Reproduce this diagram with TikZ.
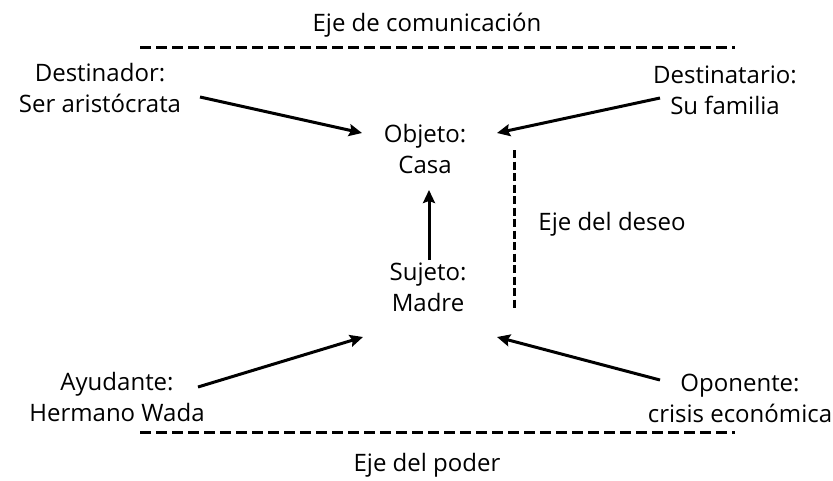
\documentclass[tikz,border=0pt]{standalone}
\usepackage{fontspec}
\setmainfont{Open Sans}
\usetikzlibrary{arrows.meta}

\begin{document}
\begin{tikzpicture}[x=1pt,y=-1pt,
	rol/.style={align=center, inner sep=0pt, font=\fontsize{24}{31}\selectfont},
	flecha/.style={line width=3pt, -{Stealth[length=13pt,width=12pt,inset=2pt]}},
	eje/.style={line width=3pt, dash pattern=on 11pt off 5pt}]
	\useasboundingbox (0,0) rectangle (833,480);
		\node[rol] (comunicacion) at (427,25) {Eje de comunicación};
		\node[rol] (poder) at (427,465) {Eje del poder};
		\node[rol] (deseo) at (612,224) {Eje del deseo};
		\node[rol] (destinador) at (100,88) {Destinador:\\Ser aristócrata};
		\node[rol] (destinatario) at (725,90) {Destinatario:\\Su familia};
		\node[rol] (objeto) at (425,149) {Objeto:\\Casa};
		\node[rol] (sujeto) at (428,287) {Sujeto:\\Madre};
		\node[rol] (ayudante) at (117,397) {Ayudante:\\Hermano Wada};
		\node[rol] (oponente) at (740,398) {Oponente:\\crisis económica};
		\draw[eje] (140,47) -- (735,47);
		\draw[eje] (140,432) -- (735,432);
		\draw[eje, dash pattern=on 8pt off 3.5pt] (514,150) -- (514,310);
		\draw[flecha] ([xshift=100pt,yshift=-9pt]destinador.center) -- ([xshift=-63pt,yshift=16pt]objeto.center);
		\draw[flecha] ([xshift=-65pt,yshift=-8pt]destinatario.center) -- ([xshift=72pt,yshift=16pt]objeto.center);
		\draw[flecha] ([xshift=1pt,yshift=27pt]sujeto.center) -- ([xshift=4pt,yshift=-41pt]objeto.center);
		\draw[flecha] ([xshift=81pt,yshift=10pt]ayudante.center) -- ([xshift=-65pt,yshift=-50pt]sujeto.center);
		\draw[flecha] ([xshift=-80pt,yshift=18pt]oponente.center) -- ([xshift=69pt,yshift=-50pt]sujeto.center);
	\end{tikzpicture}
\end{document}
